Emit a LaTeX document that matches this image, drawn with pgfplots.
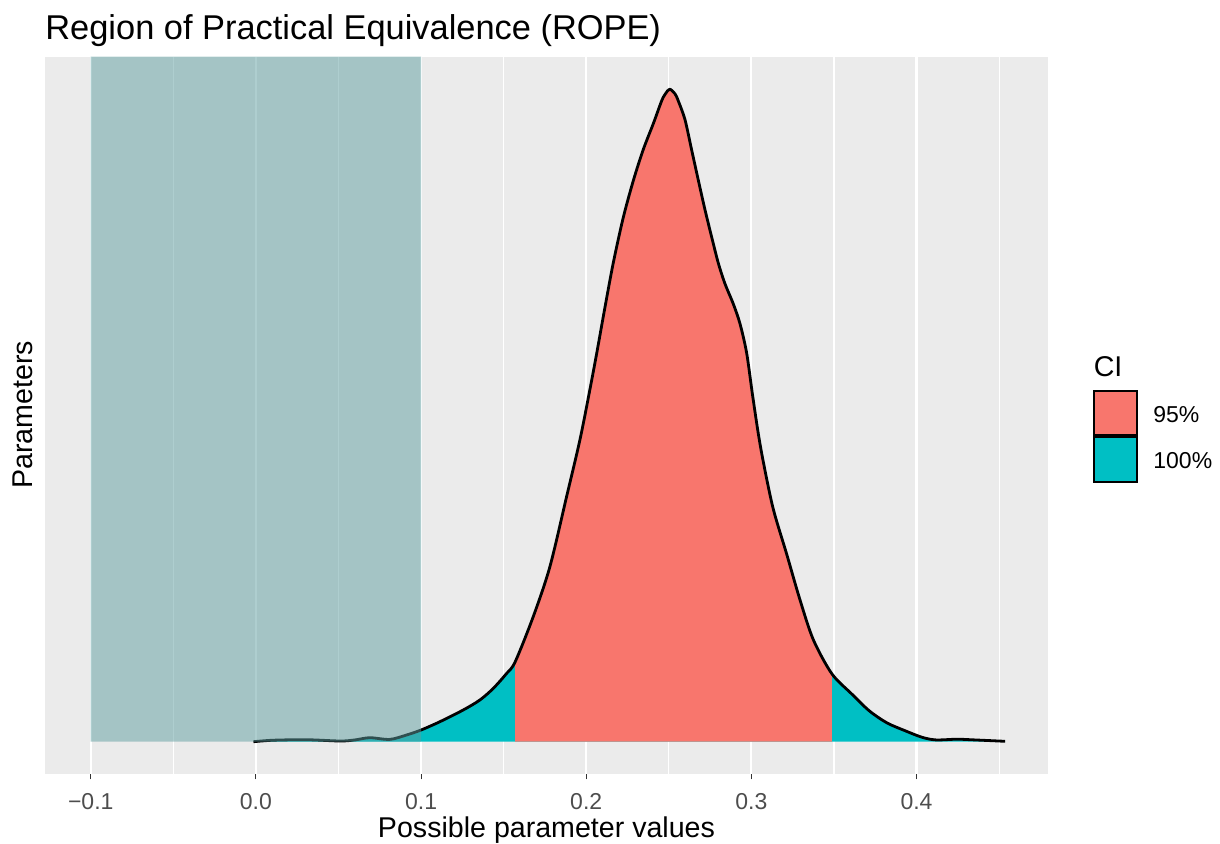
\documentclass[border=0pt]{standalone}
\usepackage{pgfplots}
\pgfplotsset{compat=1.18}
\usepackage{pgfplotstable}
\usepackage{fontspec}
\setmainfont{Liberation Sans}
\definecolor{ggbg}{HTML}{EBEBEB}
\definecolor{ggred}{HTML}{F8766D}
\definecolor{ggcyan}{HTML}{00BFC4}
\definecolor{rope}{HTML}{5F9EA0}
\definecolor{ticklab}{HTML}{4D4D4D}
\definecolor{tickcol}{HTML}{333333}

\pgfplotstableread{
x y
-0.0015 0
0.0105 1.5
0.0307 2
0.051 0.7
0.060 1.8
0.069 4
0.081 2.3
0.0912 6.7
0.100 11.7
0.1114 20
0.1255 31.7
0.1356 41.7
0.1437 53.3
0.1518 68.3
0.157 80
0.1679 125
0.178 175
0.1881 245
0.1962 302
0.2022 352
0.2063 388
0.2113 434
0.2164 479
0.2224 524
0.2285 561
0.2345 592
0.2406 618
0.2457 641
0.2480 648
0.2505 652.5
0.2537 648
0.2557 641
0.2598 622
0.2638 592
0.2678 562
0.2719 532
0.2759 505
0.2799 479
0.2840 458
0.2890 438
0.2931 418
0.2971 389
0.3005 349
0.3040 310
0.3072 280
0.3132 233
0.3213 188
0.3294 142
0.3375 102
0.3487 68
0.3606 48
0.3713 31
0.3819 19
0.3926 11.3
0.4032 4.5
0.4117 1.8
0.4245 2.5
0.4351 1.8
0.4536 0.4
}\curve

\pgfplotstableread{
x y
0.157 80
0.1679 125
0.178 175
0.1881 245
0.1962 302
0.2022 352
0.2063 388
0.2113 434
0.2164 479
0.2224 524
0.2285 561
0.2345 592
0.2406 618
0.2457 641
0.2480 648
0.2505 652.5
0.2537 648
0.2557 641
0.2598 622
0.2638 592
0.2678 562
0.2719 532
0.2759 505
0.2799 479
0.2840 458
0.2890 438
0.2931 418
0.2971 389
0.3005 349
0.3040 310
0.3072 280
0.3132 233
0.3213 188
0.3294 142
0.3375 102
0.3487 68
}\redpart

\begin{document}
\begin{tikzpicture}
\path[use as bounding box] (-22.5pt,-34.5pt) rectangle (587.5pt,387pt);
\begin{axis}[
  at={(0,0)}, anchor=south west,
  scale only axis, width=501.5pt, height=358.75pt,
  xmin=-0.1277, xmax=0.4796, ymin=-32.3, ymax=685.2,
  axis background/.style={fill=ggbg},
  axis line style={draw=none},
  xtick={-0.1,0,0.1,0.2,0.3,0.4},
  xticklabels={−0.1,0.0,0.1,0.2,0.3,0.4},
  minor xtick={-0.05,0.05,0.15,0.25,0.35,0.45},
  ytick=\empty,
  xmajorgrids, xminorgrids,
  major grid style={white, line width=1.07pt},
  minor grid style={white, line width=0.53pt},
  tick align=outside, xtick pos=left,
  major tick length=2.7pt, minor tick length=0pt,
  major tick style={tickcol, line width=0.53pt},
  xticklabel style={font=\fontsize{11.5}{13}\selectfont, text=ticklab, anchor=base, inner sep=0pt, yshift=-15pt},
]
\addplot[draw=none, fill=ggcyan, smooth] table {\curve} \closedcycle;
\addplot[draw=none, fill=ggred, smooth] table {\redpart} \closedcycle;
\addplot[black, line width=1.4pt, smooth, line join=round] table {\curve};
\addplot[draw=none, fill=rope, fill opacity=0.5] coordinates {(-0.1,0) (-0.1,685.2) (0.1,685.2) (0.1,0)} \closedcycle;
\end{axis}
\node[anchor=base west, inner sep=0pt, font=\fontsize{17.2}{20}\selectfont] at (0pt,367.25pt) {Region of Practical Equivalence (ROPE)};
\node[anchor=base, inner sep=0pt, font=\fontsize{14.3}{16}\selectfont] at (250.75pt,-31.5pt) {Possible parameter values};
\node[rotate=90, anchor=base, inner sep=0pt, font=\fontsize{14.3}{16}\selectfont] at (-6pt,179.5pt) {Parameters};
% legend
\node[anchor=base west, inner sep=0pt, font=\fontsize{14.3}{16}\selectfont] at (524.2pt,199pt) {CI};
\draw[fill=ggred, line width=1pt] (524.7pt,169.5pt) rectangle (546.2pt,191.6pt);
\draw[fill=ggcyan, line width=1pt] (524.7pt,146.2pt) rectangle (546.2pt,168.3pt);
\node[anchor=base west, inner sep=0pt, font=\fontsize{11.5}{13}\selectfont] at (554pt,175.6pt) {95\%};
\node[anchor=base west, inner sep=0pt, font=\fontsize{11.5}{13}\selectfont] at (554pt,153pt) {100\%};
\end{tikzpicture}
\end{document}
